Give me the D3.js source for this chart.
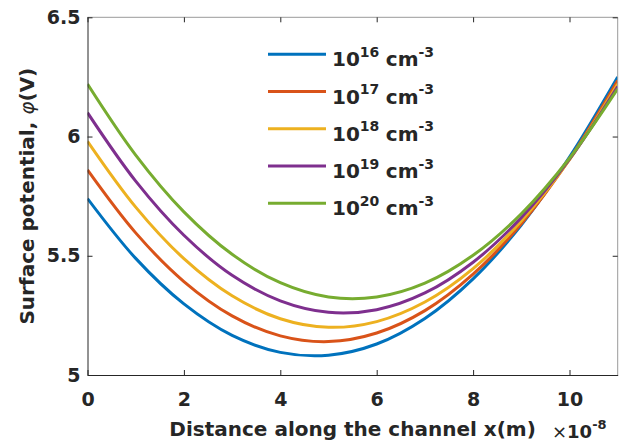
<!DOCTYPE html>
<html>
<head>
<meta charset="utf-8">
<script src="https://cdn.jsdelivr.net/npm/d3@7"></script>
<style>
  body { margin: 0; background: #fff; }
  svg { display: block; font-family: "DejaVu Sans", sans-serif; font-weight: bold; }
</style>
</head>
<body>
<svg width="631" height="447"></svg>
<script>
// x positions, in units of 1e-8 m
const xs = [0, 1, 2, 3, 4, 5, 6, 7, 8, 9, 10, 11]

const dopings = ["16", "17", "18", "19", "20"]
const colors = ["#0072BD", "#D95319", "#EDB120", "#7E2F8E", "#77AC30"]

// surface potential (V)
const phi16 = [5.74, 5.489, 5.298, 5.166, 5.095, 5.083, 5.130, 5.237, 5.403, 5.629, 5.914, 6.25]
const phi17 = [5.86, 5.596, 5.392, 5.248, 5.164, 5.140, 5.176, 5.270, 5.423, 5.634, 5.905, 6.235]
const phi18 = [5.98, 5.704, 5.488, 5.332, 5.236, 5.200, 5.224, 5.306, 5.446, 5.646, 5.903, 6.22]
const phi19 = [6.10, 5.813, 5.586, 5.418, 5.311, 5.263, 5.274, 5.344, 5.473, 5.660, 5.905, 6.21]
const phi20 = [6.22, 5.922, 5.684, 5.506, 5.387, 5.327, 5.327, 5.385, 5.502, 5.676, 5.909, 6.20]

const series = [phi16, phi17, phi18, phi19, phi20]

const xTicks = [0, 2, 4, 6, 8, 10]
const yTicks = [5, 5.5, 6, 6.5]

const margin = { left: 87.5, top: 17.3, right: 617.7, bottom: 375 }
const ink = "#262626"
const font = "'DejaVu Sans', sans-serif"

const svg = d3.select("svg")

const x = d3.scaleLinear().domain([0, 11]).range([margin.left, margin.right])
const y = d3.scaleLinear().domain([5, 6.5]).range([margin.bottom, margin.top])

// curves
svg.append("clipPath").attr("id", "clip")
  .append("rect")
    .attr("x", margin.left).attr("y", margin.top)
    .attr("width", margin.right - margin.left)
    .attr("height", margin.bottom - margin.top)

const line = d3.line()
  .x((d, i) => x(xs[i]))
  .y(d => y(d))
  .curve(d3.curveCatmullRom)

svg.append("g")
  .attr("clip-path", "url(#clip)")
  .selectAll("path")
  .data(series)
  .enter()
  .append("path")
    .attr("d", line)
    .attr("fill", "none")
    .attr("stroke", (d, i) => colors[i])
    .attr("stroke-width", 3)

// box
svg.append("line")
  .attr("x1", margin.left).attr("x2", margin.right)
  .attr("y1", margin.top).attr("y2", margin.top)
  .attr("stroke", "#9a9a9a")
svg.append("line")
  .attr("x1", margin.right).attr("x2", margin.right)
  .attr("y1", margin.top).attr("y2", margin.bottom)
  .attr("stroke", "#9a9a9a")

const xAxis = svg.append("g")
  .attr("transform", `translate(0,${margin.bottom})`)
  .call(d3.axisBottom(x).tickValues(xTicks).tickSizeInner(-5).tickSizeOuter(0).tickPadding(18)
    .tickFormat(d3.format("d")))
const xTop = svg.append("g")
  .attr("transform", `translate(0,${margin.top})`)
  .call(d3.axisTop(x).tickValues(xTicks).tickSizeInner(-5).tickSizeOuter(0).tickFormat(""))
const yAxis = svg.append("g")
  .attr("transform", `translate(${margin.left},0)`)
  .call(d3.axisLeft(y).tickValues(yTicks).tickSizeInner(-5).tickSizeOuter(0).tickPadding(7)
    .tickFormat(d => d))
const yRight = svg.append("g")
  .attr("transform", `translate(${margin.right},0)`)
  .call(d3.axisRight(y).tickValues(yTicks).tickSizeInner(-5).tickSizeOuter(0).tickFormat(""))

svg.selectAll(".domain").attr("stroke", ink)
xTop.select(".domain").attr("stroke", "none")
yRight.select(".domain").attr("stroke", "none")
svg.selectAll(".tick line").attr("stroke", ink)
svg.selectAll(".tick text")
  .attr("fill", ink)
  .style("font-size", "19px")
  .style("font-weight", "bold")
  .style("font-family", font)

// axis labels
svg.append("text")
  .attr("x", (margin.left + margin.right) / 2)
  .attr("y", 436)
  .attr("text-anchor", "middle")
  .attr("fill", ink)
  .style("font-size", "20px")
  .text("Distance along the channel x(m)")

const exp = svg.append("text")
  .attr("x", 552)
  .attr("y", 438)
  .attr("fill", ink)
  .style("font-size", "18px")
exp.append("tspan").style("font-weight", "normal").text("×")
exp.append("tspan").text("10")
exp.append("tspan").attr("dy", -9).style("font-size", "13px").text("-8")

const yl = svg.append("text")
  .attr("transform", `translate(34,${(margin.top + margin.bottom) / 2}) rotate(-90)`)
  .attr("text-anchor", "middle")
  .attr("fill", ink)
  .style("font-size", "20px")
yl.append("tspan").text("Surface potential, ")
yl.append("tspan").style("font-style", "italic").style("font-weight", "normal").text("φ")
yl.append("tspan").text("(V)")

// legend
const legend = svg.append("g")
  .selectAll("g")
  .data(dopings)
  .enter()
  .append("g")
    .attr("transform", (d, i) => `translate(0,${54.3 + i * 37.25})`)

legend.append("line")
  .attr("x1", 268).attr("x2", 326)
  .attr("stroke", (d, i) => colors[i])
  .attr("stroke-width", 3)

const lt = legend.append("text")
  .attr("x", 332)
  .attr("y", 12)
  .attr("fill", ink)
  .style("font-size", "20px")
lt.append("tspan").text("10")
lt.append("tspan").attr("dy", -9.5).style("font-size", "14px").text(d => d)
lt.append("tspan").attr("dy", 9.5).attr("dx", 6.5).text("cm")
lt.append("tspan").attr("dy", -9.5).style("font-size", "14px").text("-3")
</script>
</body>
</html>
